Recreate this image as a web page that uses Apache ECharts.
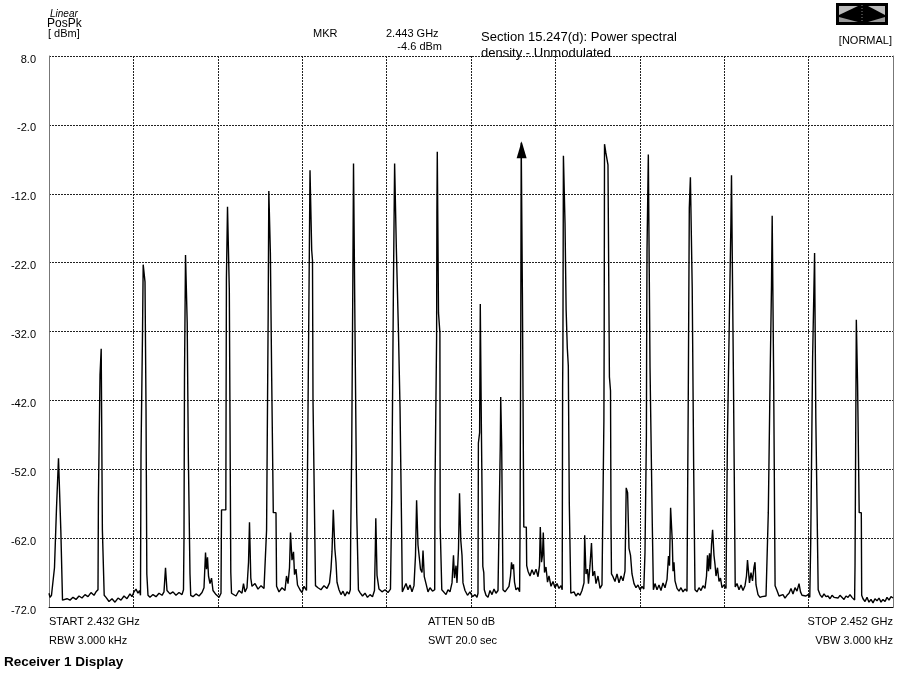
<!DOCTYPE html>
<html>
<head>
<meta charset="utf-8">
<title>Receiver 1 Display</title>
<script src="https://cdn.jsdelivr.net/npm/echarts@6/dist/echarts.min.js"></script>
<style>
  html, body { margin: 0; padding: 0; background: #fff; }
  #main { width: 899px; height: 680px; }
</style>
</head>
<body>
<div id="main"></div>
<script>
// sweep: 2.432 .. 2.452 GHz, ref level 8 dBm, 10 dB/div
var startMHz = 2432;
var stopMHz = 2452;
var refBottom = -72;   // dBm at bottom graticule line
var refTop = 8;        // dBm at top graticule line

// marker readout
var markerMHz = 11.200;   // above start
var markerDbm = -4.6;

// trace: [MHz above start, dBm]
var trace1 = [
  [0.000,-70.0],[0.024,-70.6],[0.059,-70.3],
  [0.083,-70.4],[0.130,-66.3],[0.178,-57.6],[0.213,-57.6],[0.225,-50.4],[0.268,-50.4],[0.280,-60.8],[0.308,-60.8],[0.320,-71.0],
  [0.355,-71.1],[0.427,-70.8],[0.498,-71.0],[0.569,-70.6],[0.640,-70.9],[0.711,-70.4],[0.782,-70.7],[0.853,-70.2],[0.924,-70.5],[0.995,-69.9],[1.066,-70.3],[1.114,-69.8],
  [1.137,-69.8],[1.161,-69.5],[1.171,-56.2],[1.199,-56.2],[1.209,-38.3],[1.227,-38.3],[1.237,-34.5],[1.256,-34.5],[1.265,-60.8],[1.294,-60.8],[1.308,-70.3],
  [1.351,-70.6],[1.422,-71.2],[1.493,-70.8],[1.564,-71.3],[1.635,-70.7],[1.706,-71.0],[1.777,-70.4],[1.848,-70.8],[1.919,-70.1],[1.967,-70.5],[2.014,-69.8],[2.062,-69.4],[2.109,-70.0],[2.145,-69.6],
  [2.168,-70.3],[2.180,-50.0],[2.216,-32.2],[2.232,-22.3],[2.263,-22.3],[2.275,-24.8],[2.294,-24.8],[2.299,-43.1],[2.310,-43.1],[2.318,-67.2],[2.334,-67.2],[2.346,-70.3],
  [2.393,-70.6],[2.464,-70.2],[2.536,-70.5],[2.607,-70.0],[2.678,-70.3],[2.725,-69.8],[2.761,-66.3],[2.784,-66.3],[2.796,-69.6],[2.867,-70.1],[2.938,-69.8],[3.009,-70.3],[3.081,-69.9],[3.152,-70.2],
  [3.187,-69.5],[3.199,-62.0],[3.211,-38.3],[3.235,-20.9],[3.265,-20.9],[3.275,-30.8],[3.294,-30.8],[3.303,-50.6],[3.329,-50.6],[3.341,-67.2],[3.358,-70.3],
  [3.412,-70.5],[3.483,-70.1],[3.555,-70.4],[3.626,-69.9],[3.673,-69.2],[3.709,-64.1],[3.732,-66.5],[3.756,-64.8],[3.780,-67.5],[3.815,-68.6],[3.851,-67.8],[3.886,-69.6],[3.957,-70.2],[4.028,-70.6],
  [4.076,-70.0],[4.088,-57.9],[4.190,-57.9],[4.204,-24.5],[4.230,-13.9],[4.265,-13.9],[4.273,-26.0],[4.301,-26.0],[4.308,-67.0],[4.325,-70.0],
  [4.360,-69.8],[4.431,-70.4],[4.502,-69.6],[4.573,-70.0],[4.609,-68.6],[4.645,-69.8],[4.692,-69.2],[4.728,-65.5],[4.751,-59.7],[4.770,-59.7],[4.782,-67.8],[4.810,-69.0],[4.882,-68.6],[4.953,-69.4]
];
var trace2 = [
  [5.024,-68.9],[5.095,-69.3],
  [5.142,-69.5],[5.156,-60.8],[5.185,-60.8],[5.194,-29.3],[5.209,-11.6],[5.237,-11.6],[5.246,-20.6],[5.268,-20.6],[5.277,-38.7],[5.308,-38.7],[5.315,-58.3],[5.379,-58.3],[5.393,-69.0],
  [5.450,-69.8],[5.521,-69.2],[5.592,-69.6],[5.628,-67.5],[5.664,-68.6],[5.699,-66.3],[5.723,-61.2],[5.746,-61.2],[5.758,-65.2],[5.794,-64.0],[5.818,-67.3],[5.853,-66.5],[5.889,-68.8],[5.948,-69.5],[5.995,-69.9],[6.043,-69.0],[6.102,-69.6],
  [6.149,-69.5],[6.161,-26.4],[6.185,-8.6],[6.216,-8.6],[6.225,-20.2],[6.244,-21.7],[6.256,-42.0],[6.303,-42.0],[6.315,-68.9],
  [6.374,-69.2],[6.445,-69.5],[6.517,-68.9],[6.588,-69.3],[6.647,-68.5],[6.682,-66.5],[6.706,-64.0],[6.737,-57.9],[6.761,-57.9],[6.773,-63.5],[6.801,-65.5],[6.825,-68.4],[6.872,-69.5],[6.919,-70.2],[6.967,-69.7],[7.014,-70.4],[7.062,-69.8],[7.109,-70.1],
  [7.140,-69.5],[7.149,-61.7],[7.164,-61.7],[7.173,-49.4],[7.192,-49.4],[7.199,-25.7],[7.216,-7.6],[7.242,-7.6],[7.251,-31.8],[7.282,-31.8],[7.292,-58.3],[7.322,-58.3],[7.332,-69.5],
  [7.370,-69.9],[7.429,-70.4],[7.488,-70.0],[7.547,-70.6],[7.607,-70.2],[7.666,-70.5],[7.713,-69.6],[7.732,-63.8],[7.744,-59.1],[7.763,-59.1],[7.773,-67.4],[7.820,-69.4],[7.891,-69.8],[7.962,-69.5],[8.033,-69.9],[8.092,-69.4],
  [8.114,-69.5],[8.123,-56.0],[8.152,-56.0],[8.161,-26.0],[8.180,-26.0],[8.190,-7.6],[8.223,-7.6],[8.230,-19.7],[8.270,-19.7],[8.280,-31.8],[8.308,-31.8],[8.318,-43.0],[8.348,-43.0],[8.358,-61.7],[8.372,-69.8],
  [8.412,-69.6],[8.460,-68.6],[8.507,-69.5],[8.555,-68.8],[8.602,-69.8],[8.649,-68.9],[8.685,-64.5],[8.711,-56.5],[8.732,-56.5],[8.744,-63.0],[8.780,-62.8],[8.803,-66.5],[8.839,-67.0],[8.863,-63.8],[8.882,-63.8],[8.893,-67.6],[8.934,-68.6],[8.981,-69.8],[9.028,-69.2],[9.088,-69.7],
  [9.140,-69.5],[9.147,-54.7],[9.178,-54.7],[9.185,-32.8],[9.192,-14.8],[9.201,-5.9],[9.223,-5.9],[9.230,-29.3],[9.256,-29.3],[9.263,-32.2],[9.270,-60.4],[9.299,-60.4],[9.308,-69.5],
  [9.348,-69.6],[9.408,-70.2],[9.455,-69.5],[9.502,-69.8],[9.550,-68.5],[9.585,-64.5],[9.609,-67.8],[9.645,-66.0],[9.668,-68.5],[9.704,-63.5],[9.728,-55.5],[9.747,-55.5],[9.758,-62.3],[9.787,-64.5],[9.810,-68.5],[9.858,-69.6],[9.917,-70.3],[9.976,-69.8]
];
var trace3 = [
  [10.036,-70.5],[10.095,-70.2],[10.142,-70.6],
  [10.166,-70.0],[10.175,-48.2],[10.204,-46.7],[10.220,-28.0],[10.237,-28.0],[10.246,-46.0],[10.273,-46.0],[10.280,-66.1],[10.303,-67.0],[10.315,-69.5],
  [10.355,-70.3],[10.403,-70.6],[10.450,-69.6],[10.498,-70.2],[10.545,-69.4],[10.592,-70.0],[10.640,-69.6],
  [10.682,-69.8],[10.694,-48.5],[10.704,-41.5],[10.718,-41.5],[10.727,-48.5],[10.749,-48.5],[10.758,-69.5],
  [10.806,-69.8],[10.853,-69.4],[10.900,-69.0],[10.936,-67.5],[10.960,-65.5],[10.983,-66.5],[11.007,-65.8],[11.031,-68.4],[11.066,-69.5],[11.114,-69.2],
  [11.152,-69.8],[11.161,-62.0],[11.173,-62.0],[11.180,-30.3],[11.190,-4.6],[11.209,-4.6],[11.218,-26.5],[11.242,-26.5],[11.251,-60.4],[11.311,-60.4],[11.320,-66.0],
  [11.351,-66.8],[11.398,-67.5],[11.445,-66.6],[11.493,-67.3],[11.540,-66.5],[11.588,-67.6],[11.623,-66.0],[11.642,-60.4],[11.659,-60.4],[11.671,-65.5],[11.694,-64.5],[11.713,-61.2],[11.730,-61.2],[11.742,-67.0],[11.777,-66.2],[11.813,-68.4],[11.848,-67.5],[11.896,-69.0],[11.943,-68.3],[11.991,-69.2],[12.038,-68.6],[12.085,-69.3],[12.133,-68.9],
  [12.161,-69.5],[12.171,-40.0],[12.178,-34.4],[12.190,-6.5],[12.218,-6.5],[12.228,-16.3],[12.246,-16.3],[12.254,-28.8],[12.275,-28.8],[12.282,-34.4],[12.299,-34.4],[12.306,-37.0],[12.322,-37.0],[12.329,-56.9],[12.355,-56.9],[12.365,-70.0],
  [12.393,-70.2],[12.441,-69.8],[12.488,-70.4],[12.536,-70.0],[12.583,-70.3],[12.630,-69.6],[12.678,-68.5],[12.694,-61.6],[12.713,-61.6],[12.725,-67.2],[12.760,-66.5],[12.784,-68.6],[12.820,-66.0],[12.855,-62.7],[12.874,-62.7],[12.886,-67.5],[12.927,-66.8],[12.962,-68.6],[13.009,-67.5],[13.057,-69.3],[13.104,-68.8],
  [13.140,-69.0],[13.149,-45.0],[13.156,-32.8],[13.164,-4.8],[13.182,-4.8],[13.194,-6.0],[13.235,-6.0],[13.246,-7.8],[13.270,-7.8],[13.280,-38.6],[13.306,-40.6],[13.318,-60.0],[13.329,-67.2],
  [13.365,-67.6],[13.412,-68.3],[13.460,-67.2],[13.507,-68.5],[13.555,-67.5],[13.602,-68.2],[13.649,-66.8],[13.678,-54.7],[13.701,-54.7],[13.711,-55.4],[13.732,-55.4],[13.744,-63.5],[13.780,-64.5],[13.815,-67.2],[13.863,-68.6],[13.910,-69.2],[13.957,-68.8],[14.005,-69.5],[14.052,-69.0],[14.095,-69.4],
  [14.114,-69.5],[14.123,-64.1],[14.147,-64.1],[14.156,-47.3],[14.164,-30.3],[14.171,-20.2],[14.194,-20.2],[14.202,-6.3],[14.232,-6.3],[14.242,-37.2],[14.284,-37.2],[14.296,-60.0],[14.313,-60.0],[14.322,-69.5],
  [14.360,-68.6],[14.408,-69.5],[14.455,-68.8],[14.502,-69.6],[14.550,-68.5],[14.597,-69.2],[14.645,-68.0],[14.680,-64.6],[14.704,-66.0],[14.730,-57.6],[14.758,-57.6],[14.770,-62.5],[14.787,-66.8],[14.810,-65.5],[14.834,-68.2],[14.882,-69.3],[14.929,-69.7],[14.976,-69.2]
];
var trace4 = [
  [15.024,-69.8],[15.071,-69.4],[15.118,-69.7],
  [15.142,-69.5],[15.149,-41.0],[15.166,-41.0],[15.173,-14.1],[15.199,-9.6],[15.232,-9.6],[15.242,-25.7],[15.268,-25.7],[15.277,-52.0],[15.299,-52.0],[15.308,-69.5],
  [15.355,-69.8],[15.403,-69.2],[15.450,-69.6],[15.498,-68.9],[15.545,-69.3],[15.581,-67.5],[15.604,-64.5],[15.628,-66.8],[15.652,-64.2],[15.675,-66.5],[15.699,-63.0],[15.725,-60.8],[15.744,-60.8],[15.758,-64.5],[15.782,-65.8],[15.806,-67.5],[15.841,-66.3],[15.877,-68.3],[15.912,-67.8],[15.948,-69.2],[15.995,-68.8],[16.043,-69.3],
  [16.066,-69.5],[16.076,-47.8],[16.114,-47.8],[16.123,-29.8],[16.152,-29.8],[16.159,-16.3],[16.173,-9.3],[16.209,-9.3],[16.218,-38.2],[16.251,-38.2],[16.261,-69.1],
  [16.303,-68.6],[16.351,-69.5],[16.398,-68.8],[16.445,-69.6],[16.493,-68.9],[16.528,-67.5],[16.552,-65.2],[16.576,-65.0],[16.599,-68.5],[16.635,-67.0],[16.671,-68.2],[16.706,-66.2],[16.730,-65.5],[16.754,-68.8],[16.801,-70.2],[16.848,-70.6],[16.896,-70.5],[16.943,-70.7],[16.991,-70.4],[17.026,-70.6],
  [17.038,-70.5],[17.045,-58.3],[17.078,-58.3],[17.085,-40.0],[17.121,-25.2],[17.137,-15.2],[17.161,-15.2],[17.171,-38.0],[17.197,-38.0],[17.206,-68.9],
  [17.251,-69.6],[17.299,-70.4],[17.346,-70.6],[17.393,-70.2],[17.441,-70.7],[17.488,-70.3],[17.536,-70.0],[17.583,-69.3],[17.630,-70.1],[17.678,-69.2],[17.725,-69.7],[17.773,-68.6],[17.808,-69.8],[17.844,-70.3],[17.891,-70.5],[17.938,-70.4],[17.986,-70.2],[18.028,-70.6],
  [18.043,-70.5],[18.050,-62.7],[18.088,-62.7],[18.095,-35.8],[18.142,-20.6],[18.161,-20.6],[18.171,-44.6],[18.218,-44.6],[18.227,-69.5],
  [18.270,-70.2],[18.318,-70.6],[18.365,-70.1],[18.412,-70.5],[18.460,-70.4],[18.507,-70.8],[18.555,-70.3],[18.602,-70.6],[18.649,-70.4],[18.697,-70.7],[18.744,-70.3],[18.791,-70.5],[18.839,-70.9],[18.886,-70.4],[18.934,-70.6],[18.981,-70.2],[19.028,-70.6],[19.071,-70.4],
  [19.090,-71.0],[19.100,-66.0],[19.123,-66.0],[19.131,-30.3],[19.154,-30.3],[19.161,-39.8],[19.190,-39.8],[19.199,-58.3],[19.249,-58.3],[19.258,-70.3],
  [19.289,-70.8],[19.337,-71.2],[19.384,-70.6],[19.431,-71.3],[19.479,-70.9],[19.526,-71.4],[19.573,-70.8],[19.621,-71.1],[19.668,-70.7],[19.716,-71.3],[19.763,-70.9],[19.811,-71.2],[19.858,-70.6],[19.905,-71.0],[19.953,-70.5],[20.000,-70.7]
];

var chart = echarts.init(document.getElementById('main'), null, { renderer: 'canvas' });

// y axis runs 0..80 above the bottom line so that ticks land on the graticule
function toPlot(p) { return [startMHz + p[0], p[1] - refBottom]; }
var traceData = trace1.concat(trace2, trace3, trace4).map(toPlot);

var FONT = '"Liberation Sans", Arial, sans-serif';
function txt(x, y, s, size, align, extra) {
  return {
    type: 'text', x: x, y: y, silent: true,
    style: Object.assign({
      text: s, fill: '#000', align: align || 'left', verticalAlign: 'middle',
      font: (size || 11) + 'px ' + FONT
    }, extra || {})
  };
}

var gridLine = { color: '#222', width: 1, type: [2, 1] };

var option = {
  animation: false,
  backgroundColor: '#fff',
  grid: { left: 49, right: 6, top: 56, bottom: 73 },
  xAxis: {
    type: 'value', min: startMHz, max: stopMHz, interval: 2,
    axisLine: { show: true, onZero: false, lineStyle: { color: '#000', width: 1 } },
    axisTick: { show: false },
    axisLabel: { show: false },
    splitLine: { show: true, lineStyle: gridLine }
  },
  yAxis: [{
    type: 'value', min: 0, max: refTop - refBottom, interval: 10,
    axisLine: { show: true, lineStyle: { color: '#777', width: 1 } },
    axisTick: { show: false },
    axisLabel: {
      color: '#000', fontSize: 11, fontFamily: FONT, margin: 13,
      formatter: function (v) { return '{t|' + (v + refBottom).toFixed(1) + '}'; },
      rich: { t: { fontSize: 11, fontFamily: FONT, color: '#000', padding: [7, 0, 0, 0] } }
    },
    splitLine: { show: true, lineStyle: gridLine }
  }, {
    type: 'value', min: 0, max: refTop - refBottom, interval: 10, position: 'right',
    axisLine: { show: true, lineStyle: { color: '#777', width: 1 } },
    axisTick: { show: false }, axisLabel: { show: false }, splitLine: { show: false }
  }],
  series: [{
    type: 'line',
    data: traceData,
    showSymbol: false,
    symbol: 'none',
    lineStyle: { color: '#000', width: 1.4 },
    z: 3,
    markPoint: {
      silent: true,
      data: [{
        coord: [startMHz + markerMHz, markerDbm - refBottom],
        symbol: 'triangle', symbolSize: [10, 17], symbolOffset: [0, 7],
        itemStyle: { color: '#000' }, label: { show: false }
      }]
    }
  }],
  graphic: [
    txt(50, 14, 'Linear', 10, 'left', { font: 'italic 10px ' + FONT }),
    txt(47, 24, 'PosPk', 12),
    txt(48, 34, '[ dBm]', 11),
    txt(313, 34, 'MKR', 11),
    txt(386, 34, '2.443 GHz', 11),
    txt(442, 47, '-4.6 dBm', 11, 'right'),
    txt(481, 37, 'Section 15.247(d): Power spectral', 13),
    txt(481, 53, 'density - Unmodulated', 13),
    txt(892, 41, '[NORMAL]', 11, 'right'),
    {
      type: 'group', silent: true,
      children: [
        { type: 'rect', shape: { x: 836, y: 3, width: 52, height: 22 }, style: { fill: '#000' } },
        { type: 'polygon', shape: { points: [[839, 6], [858, 6], [839, 15]] }, style: { fill: '#bbb' } },
        { type: 'polygon', shape: { points: [[839, 22], [858, 22], [839, 17]] }, style: { fill: '#999' } },
        { type: 'polygon', shape: { points: [[885, 6], [868, 6], [885, 15]] }, style: { fill: '#bbb' } },
        { type: 'polygon', shape: { points: [[885, 22], [868, 22], [885, 17]] }, style: { fill: '#999' } },
        { type: 'line', shape: { x1: 862, y1: 5, x2: 862, y2: 23 }, style: { stroke: '#888', lineDash: [1, 2] } }
      ]
    },
    txt(49, 622, 'START 2.432 GHz', 11),
    txt(49, 641, 'RBW 3.000 kHz', 11),
    txt(428, 622, 'ATTEN 50 dB', 11),
    txt(428, 641, 'SWT 20.0 sec', 11),
    txt(893, 622, 'STOP 2.452 GHz', 11, 'right'),
    txt(893, 641, 'VBW 3.000 kHz', 11, 'right'),
    txt(4, 662, 'Receiver 1 Display', 13, 'left', { font: 'bold 13.5px ' + FONT })
  ]
};

chart.setOption(option);
</script>
</body>
</html>
